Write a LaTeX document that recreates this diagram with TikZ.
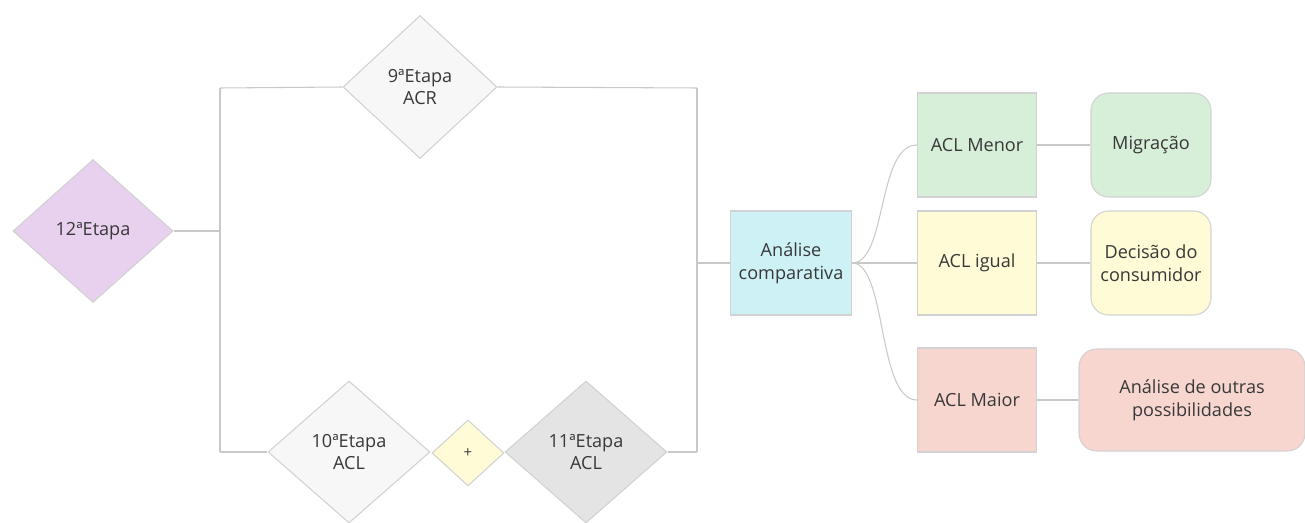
\documentclass[tikz,border=0pt]{standalone}
\usepackage{fontspec}
\setmainfont{Open Sans}
\usetikzlibrary{shapes.geometric}
\definecolor{txt}{HTML}{383838}
\definecolor{ln}{HTML}{C9C9C9}
\definecolor{bd}{HTML}{D2D2D2}
\definecolor{purp}{HTML}{E7D1EE}
\definecolor{white2}{HTML}{F7F7F7}
\definecolor{grayd}{HTML}{E4E4E4}
\definecolor{yel}{HTML}{FFFBD6}
\definecolor{cyan2}{HTML}{CDF1F5}
\definecolor{grn}{HTML}{D7EED8}
\definecolor{red2}{HTML}{F8D6D0}
\tikzset{
  base/.style={draw=bd, line width=0.6pt, text=txt, font=\fontsize{10.3pt}{13pt}\selectfont, align=center, inner sep=0pt},
  dia/.style={base, diamond, minimum width=#1*0.02cm},
  box/.style={base, rectangle, minimum width=#1*0.02cm, minimum height=104*0.02cm},
  rbox/.style={base, rectangle, rounded corners=10pt, minimum width=#1*0.02cm, minimum height=104*0.02cm},
  conn/.style={draw=ln, line width=0.6pt}
}
\begin{document}
\begin{tikzpicture}[x=0.02cm, y=-0.02cm]
\useasboundingbox (0,0) rectangle (1305,523);
% diamonds
\node[dia=160, minimum height=143*0.02cm, fill=purp] (d12) at (93,231) {12ªEtapa};
\node[dia=154, minimum height=143*0.02cm, fill=white2] (d9) at (420,87) {9ªEtapa\\ACR};
\node[dia=162, minimum height=142*0.02cm, fill=white2] (d10) at (349,452) {10ªEtapa\\ACL};
\node[dia=72, minimum height=66*0.02cm, fill=yel, font=\fontsize{8.5pt}{10pt}\selectfont] (plus) at (468,453) {+};
\node[dia=162, minimum height=142*0.02cm, fill=grayd] (d11) at (586,452) {11ªEtapa\\ACL};
% boxes
\node[box=121, fill=cyan2] (ana) at (791,263) {Análise\\comparativa};
\node[box=119, fill=grn] (menor) at (977,145) {ACL Menor};
\node[box=119, fill=yel] (igual) at (977,263) {ACL igual};
\node[box=119, fill=red2] (maior) at (977,400) {ACL Maior};
\node[rbox=120, fill=grn] (mig) at (1151,145) {Migração};
\node[rbox=120, fill=yel] (dec) at (1151,263) {Decisão do\\consumidor};
\node[rbox=226, minimum height=102*0.02cm, fill=red2] (out) at (1192,400) {Análise de outras\\possibilidades};
% bus coordinates
\coordinate (L1) at (220,88);
\coordinate (L2) at (220,452);
\coordinate (Lm) at (220,231);
\coordinate (R1) at (697,88);
\coordinate (R2) at (697,452);
\coordinate (Rm) at (697,263);
% connectors
\draw[conn] (L1) -- (L2);
\draw[conn] (R1) -- (R2);
\draw[conn] (L1) -- (d9.west);
\draw[conn] (d9.east) -- (R1);
\draw[conn] (L2) -- (d10.west);
\draw[conn] (d11.east) -- (R2);
\draw[conn] (d12.east) -- (Lm);
\draw[conn] (Rm) -- (ana.west);
\draw[conn] (ana.east) .. controls +(35,0) and +(-40,0) .. (menor.west);
\draw[conn] (ana.east) -- (igual.west);
\draw[conn] (ana.east) .. controls +(35,0) and +(-40,0) .. (maior.west);
\draw[conn] (menor.east) -- (mig.west);
\draw[conn] (igual.east) -- (dec.west);
\draw[conn] (maior.east) -- (out.west);
\end{tikzpicture}
\end{document}
